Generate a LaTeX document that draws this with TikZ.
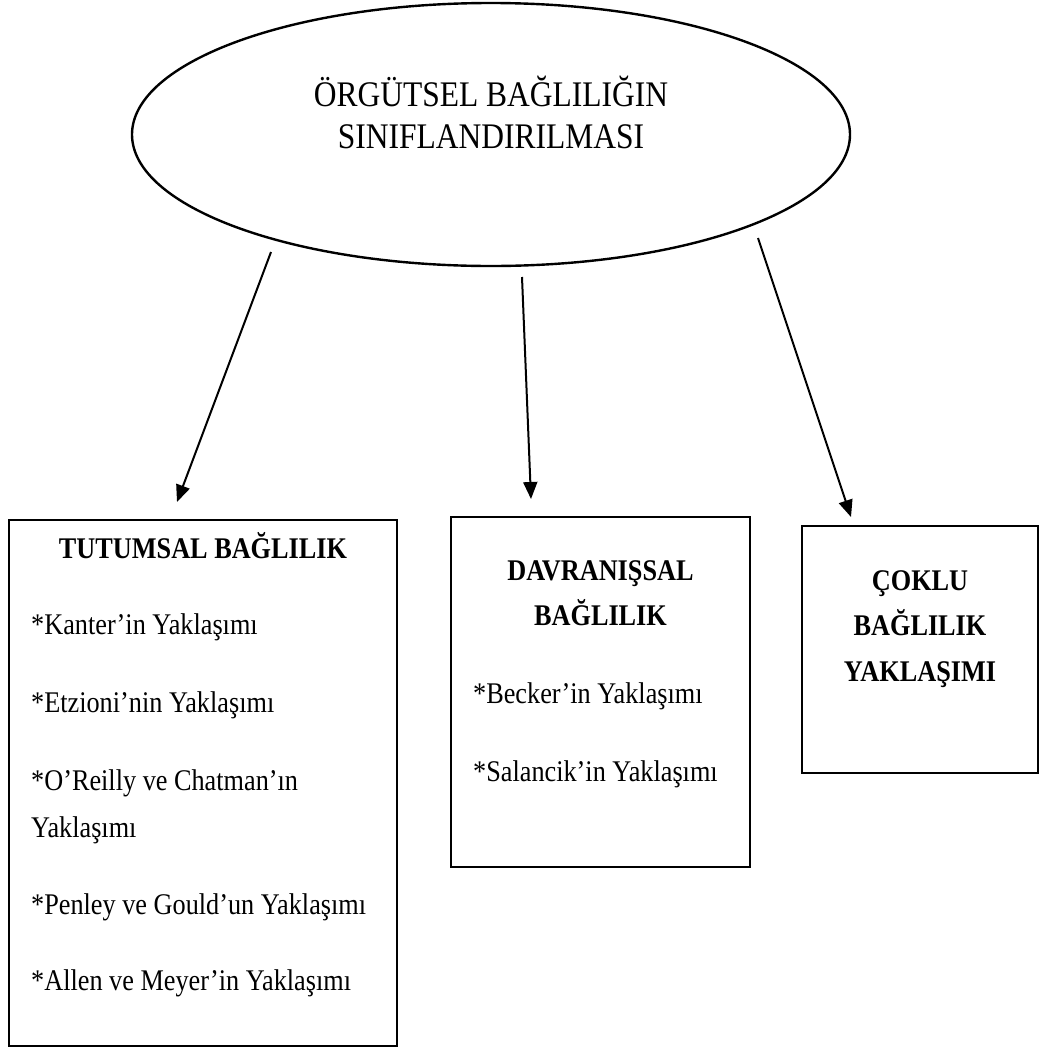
\documentclass[tikz,border=0pt]{standalone}
\usepackage{fontspec}
\setmainfont{Liberation Serif}[FakeStretch=0.875]
\usetikzlibrary{shapes.geometric,arrows.meta}
\begin{document}
\begin{tikzpicture}[x=1pt,y=-1pt,
  frame/.style={draw, line width=2.4pt, fill=white, inner sep=0pt, outer sep=0pt, anchor=north west},
  oval/.style={draw, ellipse, line width=2.4pt, inner sep=0pt},
  headtext/.style={anchor=base, inner sep=0pt, font=\fontsize{30}{34}\selectfont\bfseries},
  itemtext/.style={anchor=base west, inner sep=0pt, font=\fontsize{30}{34}\selectfont},
  toptext/.style={anchor=base, inner sep=0pt, font=\fontsize{36}{40}\selectfont},
  link/.style={line width=2pt, -{Triangle[length=17pt,width=14pt]}}]
\useasboundingbox (0,0) rectangle (1042,1053);

% top ellipse
\node[oval, minimum width=718pt, minimum height=263pt] (root) at (491,134.5) {};
\node[toptext] (rootA) at (491,106) {ÖRGÜTSEL BAĞLILIĞIN};
\node[toptext] (rootB) at (491,148) {SINIFLANDIRILMASI};

% boxes
\node[frame, minimum width=388pt, minimum height=526pt] (att) at (9,520) {};
\node[frame, minimum width=299pt, minimum height=350pt] (beh) at (451,517) {};
\node[frame, minimum width=236pt, minimum height=247pt] (multi) at (802,526) {};

% attitudinal commitment
\node[headtext] (attH) at (203,558) {TUTUMSAL BAĞLILIK};
\node[itemtext] (att1) at (31,634) {*Kanter’in Yaklaşımı};
\node[itemtext] (att2) at (31,712) {*Etzioni’nin Yaklaşımı};
\node[itemtext] (att3) at (31,790) {*O’Reilly ve Chatman’ın};
\node[itemtext] (att3b) at (31,837) {Yaklaşımı};
\node[itemtext] (att4) at (31,914) {*Penley ve Gould’un Yaklaşımı};
\node[itemtext] (att5) at (31,990) {*Allen ve Meyer’in Yaklaşımı};

% behavioural commitment
\node[headtext] (behH1) at (600.5,580) {DAVRANIŞSAL};
\node[headtext] (behH2) at (600.5,625) {BAĞLILIK};
\node[itemtext] (beh1) at (473,703) {*Becker’in Yaklaşımı};
\node[itemtext] (beh2) at (473,781) {*Salancik’in Yaklaşımı};

% multiple commitment
\node[headtext] (mulH1) at (920,590) {ÇOKLU};
\node[headtext] (mulH2) at (920,635) {BAĞLILIK};
\node[headtext] (mulH3) at (920,681) {YAKLAŞIMI};

% arrows
\coordinate (s1) at (271,252);
\coordinate (e1) at (177,502);
\coordinate (s2) at (522,277);
\coordinate (e2) at (531,499);
\coordinate (s3) at (758,238);
\coordinate (e3) at (851,517);
\draw[link] (s1) -- (e1);
\draw[link] (s2) -- (e2);
\draw[link] (s3) -- (e3);
\end{tikzpicture}
\end{document}
